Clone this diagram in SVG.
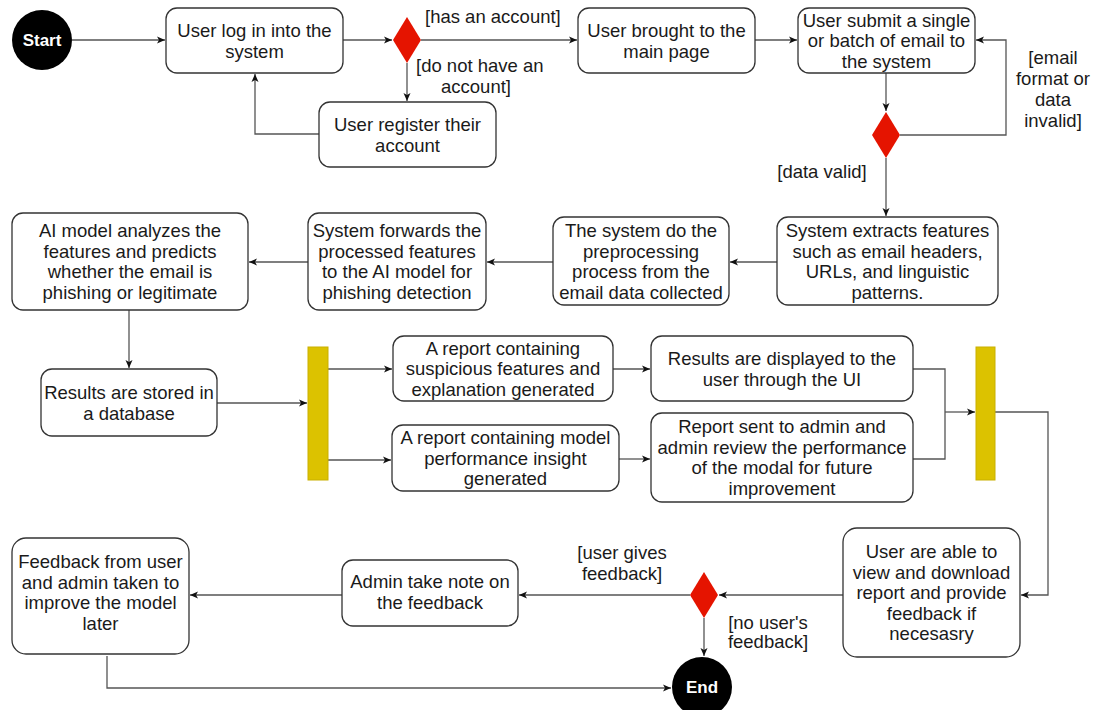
<svg xmlns="http://www.w3.org/2000/svg" width="1094" height="710" viewBox="0 0 1094 710">
<defs>
<marker id="ah" markerWidth="10" markerHeight="8" refX="8" refY="4" orient="auto" markerUnits="userSpaceOnUse">
<path d="M0,0.5 L8,4 L0,7.5 L2,4 Z" fill="#111"/>
</marker>
<style>
.box{fill:#fff;stroke:#333;stroke-width:1.3}
.t{font-family:"Liberation Sans",Arial,sans-serif;font-size:18.5px;fill:#1a1a1a;text-anchor:middle}
.lbl{font-family:"Liberation Sans",Arial,sans-serif;font-size:18.5px;fill:#1a1a1a}
.c{fill:none;stroke:#555;stroke-width:1.3;marker-end:url(#ah)}
.l{fill:none;stroke:#555;stroke-width:1.3}
.dia{fill:#e51400;stroke:none}
.bar{fill:#dcc200;stroke:#c9b000;stroke-width:1}
.term{fill:#000}
.tt{font-family:"Liberation Sans",Arial,sans-serif;font-size:17px;font-weight:bold;fill:#fff;text-anchor:middle}
</style>
</defs>
<rect width="1094" height="710" fill="#fff"/>

<g id="connectors">
<path class="c" d="M72,40 H165"/>
<path class="c" d="M343,40 H392"/>
<path class="c" d="M421,40 H577"/>
<path class="c" d="M407,63 V101"/>
<path class="c" d="M319,134 H255 V74"/>
<path class="c" d="M755,40 H797"/>
<path class="c" d="M886,73 V111"/>
<path class="c" d="M900,135 H1006 V40 H976"/>
<path class="c" d="M886,158 V216"/>
<path class="c" d="M777,262 H730"/>
<path class="c" d="M553,262 H487"/>
<path class="c" d="M308,262 H249"/>
<path class="c" d="M129,310 V368"/>
<path class="c" d="M217,403 H307"/>
<path class="c" d="M328,369 H392"/>
<path class="c" d="M328,460 H391"/>
<path class="c" d="M613,369 H650"/>
<path class="c" d="M619,459 H650"/>
<path class="l" d="M913,369 H945 V459 H913"/>
<path class="c" d="M945,412 H975"/>
<path class="c" d="M995,412 H1048 V595 H1021"/>
<path class="c" d="M843,595 H719"/>
<path class="c" d="M690,595 H519"/>
<path class="c" d="M342,595 H190"/>
<path class="c" d="M704,618 V656"/>
<path class="c" d="M107,656 V688 H671"/>
<text class="lbl" x="425" y="23">[has an account]</text>
<text class="lbl" x="416" y="72">[do not have an</text>
<text class="t" x="476" y="93">account]</text>
<text class="t" x="1053" y="64">[email</text>
<text class="t" x="1053" y="85">format or</text>
<text class="t" x="1053" y="106">data</text>
<text class="t" x="1053" y="127">invalid]</text>
<text class="t" x="822" y="178">[data valid]</text>
<text class="t" x="622" y="559">[user gives</text>
<text class="t" x="622" y="580">feedback]</text>
<text class="t" x="768" y="629">[no user's</text>
<text class="t" x="768" y="648">feedback]</text>
</g>

<g id="start"><circle class="term" cx="42" cy="40" r="30"/><text class="tt" x="42" y="46">Start</text></g>
<g id="end"><circle class="term" cx="702" cy="687" r="30"/><text class="tt" x="702" y="693">End</text></g>

<g id="d1"><polygon class="dia" points="407,17 421,40 407,63 393,40"/></g>
<g id="d2"><polygon class="dia" points="886,112 900,135 886,158 872,135"/></g>
<g id="d3"><polygon class="dia" points="704,572 718,595 704,618 690,595"/></g>

<g id="bar1"><rect class="bar" x="308" y="347" width="20" height="133"/></g>
<g id="bar2"><rect class="bar" x="976" y="347" width="19" height="133"/></g>

<g id="login"><rect class="box" x="166" y="8" width="177" height="65" rx="11"/>
<text class="t" x="254.5" y="37">User log in into the</text><text class="t" x="254.5" y="57.5">system</text></g>

<g id="register"><rect class="box" x="319" y="102" width="177" height="65" rx="11"/>
<text class="t" x="407.5" y="131">User register their</text><text class="t" x="407.5" y="151.5">account</text></g>

<g id="mainpage"><rect class="box" x="578" y="8" width="177" height="65" rx="11"/>
<text class="t" x="666.5" y="37">User brought to the</text><text class="t" x="666.5" y="57.5">main page</text></g>

<g id="submit"><rect class="box" x="798" y="8" width="177" height="65" rx="11"/>
<text class="t" x="886.5" y="26.5">User submit a single</text><text class="t" x="886.5" y="47">or batch of email to</text><text class="t" x="886.5" y="67.5">the system</text></g>

<g id="extract"><rect class="box" x="777" y="217" width="221" height="88" rx="11"/>
<text class="t" x="887.5" y="237">System extracts features</text><text class="t" x="887.5" y="257.5">such as email headers,</text><text class="t" x="887.5" y="278">URLs, and linguistic</text><text class="t" x="887.5" y="298.5">patterns.</text></g>

<g id="preprocess"><rect class="box" x="553" y="217" width="176" height="88" rx="11"/>
<text class="t" x="641" y="237">The system do the</text><text class="t" x="641" y="257.5">preprocessing</text><text class="t" x="641" y="278">process from the</text><text class="t" x="641" y="298.5">email data collected</text></g>

<g id="forward"><rect class="box" x="308" y="213" width="178" height="97" rx="11"/>
<text class="t" x="397" y="237">System forwards the</text><text class="t" x="397" y="257.5">processed features</text><text class="t" x="397" y="278">to the AI model for</text><text class="t" x="397" y="298.5">phishing detection</text></g>

<g id="ai"><rect class="box" x="12" y="213" width="236" height="97" rx="11"/>
<text class="t" x="130" y="237">AI model analyzes the</text><text class="t" x="130" y="257.5">features and predicts</text><text class="t" x="130" y="278">whether the email is</text><text class="t" x="130" y="298.5">phishing or legitimate</text></g>

<g id="stored"><rect class="box" x="41" y="369" width="176" height="67" rx="11"/>
<text class="t" x="129" y="399">Results are stored in</text><text class="t" x="129" y="419.5">a database</text></g>

<g id="report1"><rect class="box" x="393" y="336" width="220" height="65" rx="11"/>
<text class="t" x="503" y="354.5">A report containing</text><text class="t" x="503" y="375">suspicious features and</text><text class="t" x="503" y="395.5">explanation generated</text></g>

<g id="report2"><rect class="box" x="392" y="425" width="227" height="66" rx="11"/>
<text class="t" x="505.5" y="444">A report containing model</text><text class="t" x="505.5" y="464.5">performance insight</text><text class="t" x="505.5" y="485">generated</text></g>

<g id="displayed"><rect class="box" x="651" y="336" width="262" height="65" rx="11"/>
<text class="t" x="782" y="365">Results are displayed to the</text><text class="t" x="782" y="385.5">user through the UI</text></g>

<g id="adminreview"><rect class="box" x="651" y="413" width="262" height="89" rx="11"/>
<text class="t" x="782" y="433">Report sent to admin and</text><text class="t" x="782" y="453.5">admin review the performance</text><text class="t" x="782" y="474">of the modal for future</text><text class="t" x="782" y="494.5">improvement</text></g>

<g id="userfeedback"><rect class="box" x="843" y="528" width="177" height="129" rx="14"/>
<text class="t" x="931.5" y="558">User are able to</text><text class="t" x="931.5" y="578.5">view and download</text><text class="t" x="931.5" y="599">report and provide</text><text class="t" x="931.5" y="619.5">feedback if</text><text class="t" x="931.5" y="640">necesasry</text></g>

<g id="adminnote"><rect class="box" x="342" y="560" width="176" height="66" rx="11"/>
<text class="t" x="430" y="588">Admin take note on</text><text class="t" x="430" y="608.5">the feedback</text></g>

<g id="feedback"><rect class="box" x="12" y="538" width="177" height="116" rx="14"/>
<text class="t" x="100.5" y="568">Feedback from user</text><text class="t" x="100.5" y="588.5">and admin taken to</text><text class="t" x="100.5" y="609">improve the model</text><text class="t" x="100.5" y="629.5">later</text></g>
</svg>
